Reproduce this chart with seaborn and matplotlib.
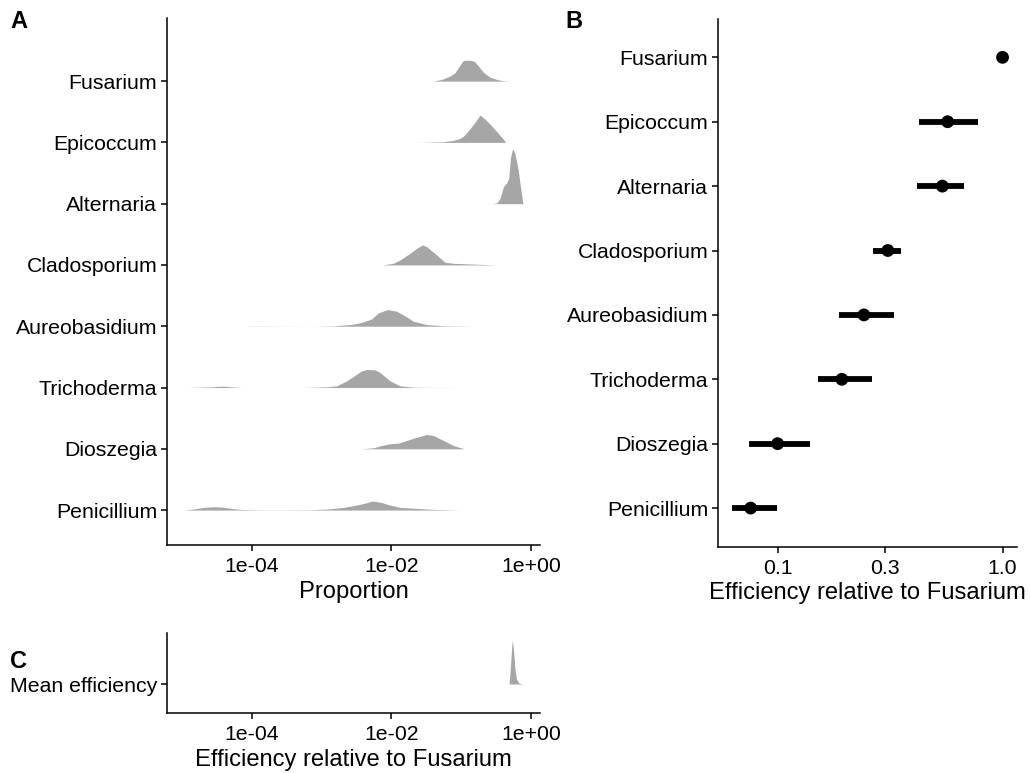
import numpy as np
import matplotlib
matplotlib.use("Agg")
import matplotlib.pyplot as plt
import seaborn as sns
import pandas as pd
from matplotlib.ticker import FixedLocator, FixedFormatter, NullLocator

# ---------------- data ----------------
genera = ["Fusarium", "Epicoccum", "Alternaria", "Cladosporium",
          "Aureobasidium", "Trichoderma", "Dioszegia", "Penicillium"]

# Panel A: ridge profiles (log10 proportion, relative density height)
fusarium_log10 = [-1.400, -1.281, -1.161, -1.090, -1.027, -0.980, -0.946, -0.851,
                  -0.803, -0.741, -0.674, -0.588, -0.492, -0.397, -0.292]
fusarium_dens = [0, 5, 15, 25, 45, 60, 63, 62, 58, 42, 25, 12, 5, 1, 0]

epicoccum_log10 = [-1.677, -1.496, -1.257, -1.113, -1.018, -0.961, -0.898, -0.803,
                   -0.731, -0.659, -0.588, -0.492, -0.397, -0.363]
epicoccum_dens = [0, 0.5, 2, 6, 12, 20, 35, 60, 82, 70, 55, 33, 10, 0]

alternaria_log10 = [-0.564, -0.492, -0.444, -0.397, -0.349, -0.320, -0.292, -0.263,
                    -0.229, -0.182, -0.143, -0.115]
alternaria_dens = [0, 2, 15, 50, 62, 75, 140, 165, 150, 100, 40, 0]

cladosporium_log10 = [-2.127, -1.974, -1.878, -1.735, -1.639, -1.558, -1.496, -1.352,
                      -1.233, -1.113, -0.875, -0.492]
cladosporium_dens = [0, 5, 15, 35, 50, 60, 55, 30, 8, 5, 3, 0]

aureobasidium_log10 = [-4.053, -3.909, -3.121, -2.834, -2.595, -2.452, -2.284, -2.189,
                       -2.055, -1.926, -1.782, -1.687, -1.496, -1.257, -0.827]
aureobasidium_dens = [0.5, 0.5, 0, 1, 5, 10, 22, 40, 50, 45, 28, 15, 5, 1.5, 0]

trichoderma_log10 = [-4.913, -4.602, -4.411, -4.220, -4.148, -3.264, -2.929, -2.786,
                     -2.643, -2.499, -2.428, -2.356, -2.237, -2.165, -2.022, -1.878,
                     -1.687, -1.496, -0.994]
trichoderma_dens = [0, 2, 4, 1, 0, 0, 2, 5, 20, 40, 50, 54, 53, 45, 20, 5, 1, 0.3, 0]

dioszegia_log10 = [-2.437, -2.260, -2.141, -2.022, -1.902, -1.783, -1.663, -1.496,
                   -1.400, -1.257, -1.113, -0.961]
dioszegia_dens = [0, 3, 10, 15, 17, 25, 33, 43, 40, 25, 10, 0]

penicillium_log10 = [-4.975, -4.841, -4.698, -4.554, -4.435, -4.292, -4.172, -3.885,
                     -3.503, -3.168, -2.929, -2.691, -2.499, -2.356, -2.284, -2.165,
                     -2.022, -1.878, -1.639, -1.400, -1.018]
penicillium_dens = [0, 3, 8, 10, 9, 5, 2, 0.5, 0.5, 1, 3, 8, 15, 22, 27, 24, 15, 8,
                    5, 2, 0]

# Panel B: efficiency relative to Fusarium (estimate, lower, upper)
eff_est = [1.0, 0.57, 0.54, 0.309, 0.242, 0.193, 0.100, 0.0759]
eff_low = [1.0, 0.426, 0.416, 0.265, 0.187, 0.151, 0.0743, 0.063]
eff_high = [1.0, 0.78, 0.673, 0.353, 0.328, 0.262, 0.1396, 0.0996]

# Panel C: mean efficiency ridge
mean_eff_log10 = [-0.315, -0.301, -0.287, -0.268, -0.251, -0.229, -0.208, -0.172, -0.119]
mean_eff_dens = [0, 30, 75, 132, 105, 45, 15, 3, 0]

xticks_A = [1e-4, 1e-2, 1e0]
xticklabels_A = ["1e-04", "1e-02", "1e+00"]
xticks_B = [0.1, 0.3, 1.0]
xticklabels_B = ["0.1", "0.3", "1.0"]

# ---------------- style ----------------
sns.set_theme(style="ticks")
plt.rcParams["font.family"] = ["Liberation Sans", "DejaVu Sans"]
plt.rcParams["axes.linewidth"] = 1.1
plt.rcParams["xtick.major.width"] = 1.1
plt.rcParams["ytick.major.width"] = 1.1
plt.rcParams["xtick.major.size"] = 4
plt.rcParams["ytick.major.size"] = 4
plt.rcParams["xtick.color"] = "black"
plt.rcParams["ytick.color"] = "black"
plt.rcParams["xtick.labelcolor"] = "black"
plt.rcParams["ytick.labelcolor"] = "black"
plt.rcParams["axes.edgecolor"] = "black"
plt.rcParams["axes.labelcolor"] = "black"
plt.rcParams["text.color"] = "black"

TICK_FS = 15.3
TITLE_FS = 17.1
FILL = "#a6a6a6"
SCALE = 1.0 / (3 * 61.3)

W, H = 1030, 773
fig = plt.figure(figsize=(W / 100, H / 100), dpi=100)
fig.patch.set_facecolor("white")

axA = fig.add_axes([167 / W, (H - 545) / H, (540 - 167) / W, (545 - 18) / H])
axB = fig.add_axes([718 / W, (H - 546.7) / H, (1016.5 - 718) / W, (546.7 - 18.7) / H])
axC = fig.add_axes([167 / W, (H - 713) / H, (540 - 167) / W, (713 - 633) / H])

# ---------------- Panel A ----------------
ridges = {
    "Fusarium": (fusarium_log10, fusarium_dens),
    "Epicoccum": (epicoccum_log10, epicoccum_dens),
    "Alternaria": (alternaria_log10, alternaria_dens),
    "Cladosporium": (cladosporium_log10, cladosporium_dens),
    "Aureobasidium": (aureobasidium_log10, aureobasidium_dens),
    "Trichoderma": (trichoderma_log10, trichoderma_dens),
    "Dioszegia": (dioszegia_log10, dioszegia_dens),
    "Penicillium": (penicillium_log10, penicillium_dens),
}
n = len(genera)
ypos = {g: n - i for i, g in enumerate(genera)}
for g in genera:
    lx, d = ridges[g]
    x = 10 ** np.asarray(lx)
    base = ypos[g]
    axA.fill_between(x, base, base + np.asarray(d) * SCALE, color=FILL, lw=0)
axA.set_xscale("log")
axA.set_xlim(10 ** -5.22, 10 ** 0.13)
axA.set_ylim(0.43, 9.03)
axA.set_yticks([ypos[g] for g in genera])
axA.set_yticklabels(genera, fontsize=TICK_FS)
axA.xaxis.set_major_locator(FixedLocator(xticks_A))
axA.xaxis.set_major_formatter(FixedFormatter(xticklabels_A))
axA.xaxis.set_minor_locator(NullLocator())
axA.tick_params(axis="x", labelsize=TICK_FS, pad=5)
axA.tick_params(axis="y", pad=3)
axA.set_xlabel("Proportion", fontsize=TITLE_FS, labelpad=3)
axA.set_ylabel("")
sns.despine(ax=axA)

# ---------------- Panel B ----------------
dfB = pd.DataFrame({"genus": genera, "est": eff_est, "low": eff_low,
                    "high": eff_high})
dfB["y"] = [ypos[g] for g in dfB["genus"]]
axB.hlines(dfB["y"], dfB["low"], dfB["high"], color="black", lw=4.2)
sns.scatterplot(data=dfB, x="est", y="y", ax=axB, color="black", s=85,
                edgecolor="none", zorder=3, legend=False)
axB.set_xscale("log")
axB.set_xlim(10 ** -1.265, 10 ** 0.062)
axB.set_ylim(0.4, 8.6)
axB.set_yticks([ypos[g] for g in genera])
axB.set_yticklabels(genera, fontsize=TICK_FS)
axB.xaxis.set_major_locator(FixedLocator(xticks_B))
axB.xaxis.set_major_formatter(FixedFormatter(xticklabels_B))
axB.xaxis.set_minor_locator(NullLocator())
axB.tick_params(axis="x", labelsize=TICK_FS, pad=5)
axB.tick_params(axis="y", pad=3)
axB.set_xlabel("Efficiency relative to Fusarium", fontsize=TITLE_FS, labelpad=3)
axB.set_ylabel("")
sns.despine(ax=axB)

# ---------------- Panel C ----------------
xc = 10 ** np.asarray(mean_eff_log10)
axC.fill_between(xc, 1, 1 + np.asarray(mean_eff_dens) * SCALE, color=FILL, lw=0)
axC.set_xscale("log")
axC.set_xlim(10 ** -5.22, 10 ** 0.13)
axC.set_ylim(1 - 29 / 61.3, 1 + 51 / 61.3)
axC.set_yticks([1])
axC.set_yticklabels(["Mean efficiency"], fontsize=TICK_FS)
axC.xaxis.set_major_locator(FixedLocator(xticks_A))
axC.xaxis.set_major_formatter(FixedFormatter(xticklabels_A))
axC.xaxis.set_minor_locator(NullLocator())
axC.tick_params(axis="x", labelsize=TICK_FS, pad=5)
axC.tick_params(axis="y", pad=3)
axC.set_xlabel("Efficiency relative to Fusarium", fontsize=TITLE_FS, labelpad=3)
axC.set_ylabel("")
sns.despine(ax=axC)

# panel letters
fig.text(10 / W, 1 - 21 / H, "A", fontsize=17, fontweight="bold", va="center",
         ha="left", color="black")
fig.text(565 / W, 1 - 21 / H, "B", fontsize=17, fontweight="bold", va="center",
         ha="left", color="black")
fig.text(10 / W, 1 - 662 / H, "C", fontsize=17, fontweight="bold", va="center",
         ha="left", color="black")

fig.savefig("out.png", dpi=100, facecolor="white")
